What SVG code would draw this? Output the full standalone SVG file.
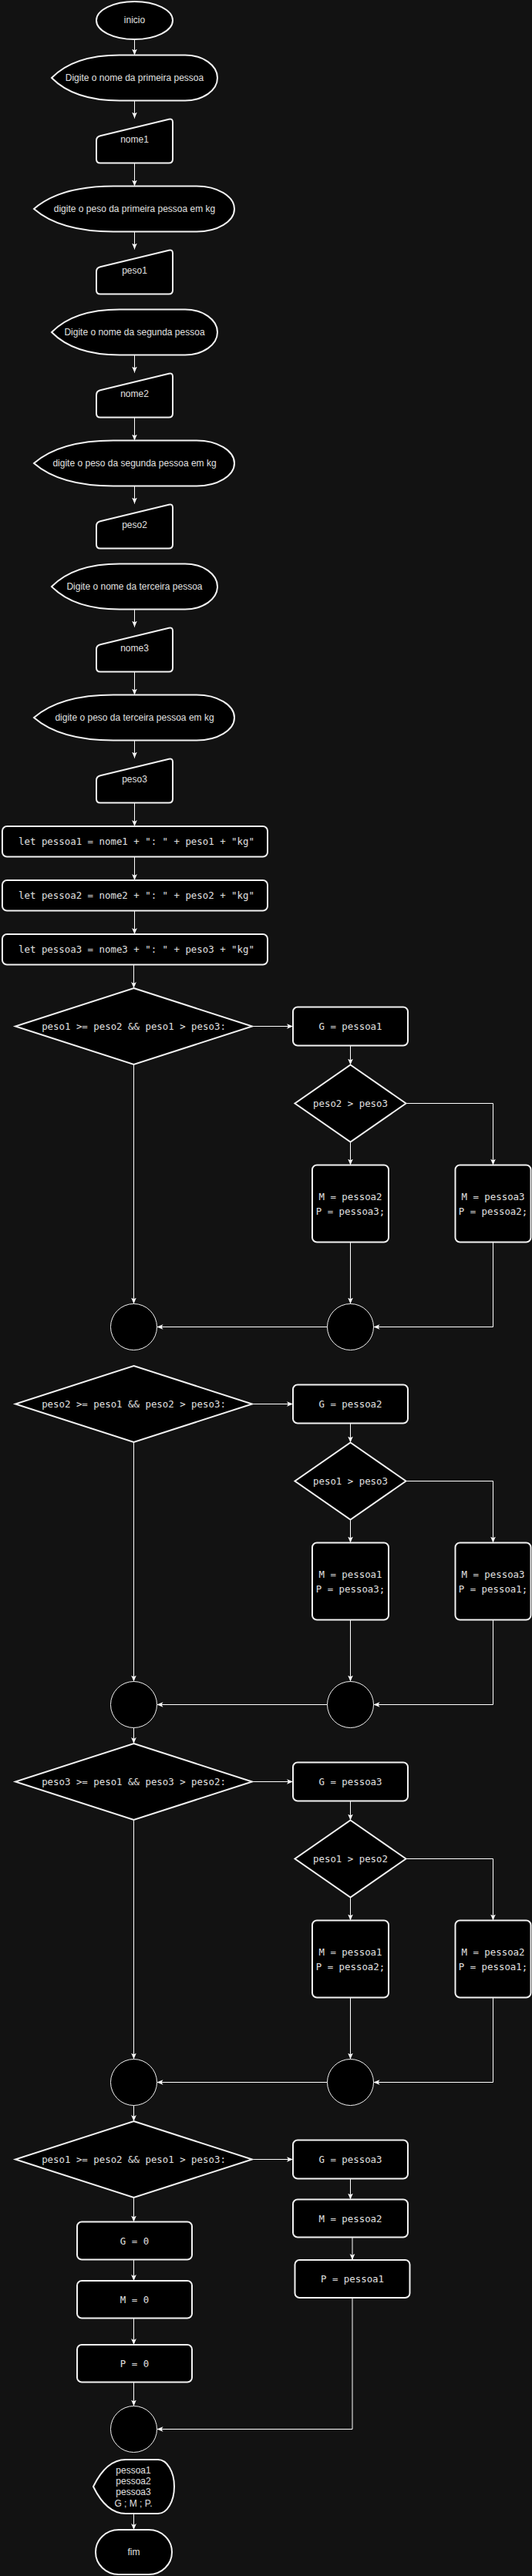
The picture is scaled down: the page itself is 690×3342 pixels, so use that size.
<svg xmlns="http://www.w3.org/2000/svg" width="690" height="3342" viewBox="0 0 690 3342">
<style>
.s{fill:#000;stroke:#f2f2f2;stroke-width:2}
.c{fill:#000;stroke:#f2f2f2;stroke-width:1}
.t{font-family:"Liberation Sans",Arial,sans-serif;font-size:12px;fill:#e0e0e0;text-anchor:middle;dominant-baseline:central}
.m{font-family:"DejaVu Sans Mono","Liberation Mono",monospace;font-size:12.4px;fill:#e0e0e0;text-anchor:middle;dominant-baseline:central}
.e{fill:none;stroke:#fff;stroke-width:1;marker-end:url(#a)}
</style>
<defs>
<marker id="a" markerUnits="userSpaceOnUse" viewBox="0 0 10 10" refX="10" refY="5" markerWidth="8" markerHeight="8" orient="auto">
<path d="M0,0.8 L10,5 L0,9.2 L2.5,5 Z" fill="#fff"/>
</marker>
</defs>
<rect width="690" height="3342" fill="#121212"/>

<g id="connectors">
<path class="e" d="M174.5 51V71.5"/>
<path class="e" d="M174.5 130.5V153.5"/>
<path class="e" d="M174.5 211.5V241.5"/>
<path class="e" d="M174.5 300.5V323.5"/>
<path class="e" d="M174.5 460.5V483.5"/>
<path class="e" d="M174.5 541.5V571.5"/>
<path class="e" d="M174.5 630.5V653.5"/>
<path class="e" d="M174.5 790.5V813.5"/>
<path class="e" d="M174.5 871.5V901.5"/>
<path class="e" d="M174.5 960.5V983.5"/>
<path class="e" d="M174.5 1041.5V1072"/>
<path class="e" d="M174.5 1111.5V1142"/>
<path class="e" d="M174.5 1181.5V1212"/>
<path class="e" d="M173.5 1251.5V1282"/>

<path class="e" d="M327 1331.5H380"/>
<path class="e" d="M454.5 1356.5V1381.5"/>
<path class="e" d="M454.5 1481.5V1511.5"/>
<path class="e" d="M526.5 1431.5H639.5V1511.5"/>
<path class="e" d="M454.5 1611.5V1691.5"/>
<path class="e" d="M639.5 1611.5V1721.5H484.5"/>
<path class="e" d="M424.5 1721.5H203.5"/>
<path class="e" d="M173.5 1381V1691.5"/>

<path class="e" d="M327 1821.5H380"/>
<path class="e" d="M454.5 1846.5V1871.5"/>
<path class="e" d="M454.5 1971.5V2001.5"/>
<path class="e" d="M526.5 1921.5H639.5V2001.5"/>
<path class="e" d="M454.5 2101.5V2181.5"/>
<path class="e" d="M639.5 2101.5V2211.5H484.5"/>
<path class="e" d="M424.5 2211.5H203.5"/>
<path class="e" d="M173.5 1871V2181.5"/>
<path class="e" d="M173.5 2241.5V2262"/>

<path class="e" d="M327 2311.5H380"/>
<path class="e" d="M454.5 2336.5V2361.5"/>
<path class="e" d="M454.5 2461.5V2491.5"/>
<path class="e" d="M526.5 2411.5H639.5V2491.5"/>
<path class="e" d="M454.5 2591.5V2671.5"/>
<path class="e" d="M639.5 2591.5V2701.5H484.5"/>
<path class="e" d="M424.5 2701.5H203.5"/>
<path class="e" d="M173.5 2361V2671.5"/>
<path class="e" d="M173.5 2731.5V2752"/>

<path class="e" d="M327 2801.5H380"/>
<path class="e" d="M454.5 2826.5V2853.5"/>
<path class="e" d="M457 2902.5V2932"/>
<path class="e" d="M457 2981V3151.5H203.5"/>
<path class="e" d="M173.5 2851V2882.5"/>
<path class="e" d="M173.5 2931.5V2959"/>
<path class="e" d="M173.5 3007.5V3042"/>
<path class="e" d="M173.5 3090.5V3121.5"/>
<path class="e" d="M173.5 3261V3282"/>
</g>

<g id="inicio"><ellipse class="s" cx="174.5" cy="26.5" rx="49.5" ry="24.5"/><text class="t" x="174.5" y="26">inicio</text></g>

<g id="msg_nome1"><path class="s" d="M67,101 Q96,71.5 155,71.5 L240,71.5 A42 29.5 0 0 1 282,101 A42 29.5 0 0 1 240,130.5 L155,130.5 Q96,130.5 67,101 Z"/><text class="t" x="174.5" y="101">Digite o nome da primeira pessoa</text></g>
<g id="in_nome1"><path class="s" d="M125,182.5 Q125,177.5 130,176.3 L219,154.7 Q224,153.5 224,158.5 L224,206.5 Q224,211.5 219,211.5 L130,211.5 Q125,211.5 125,206.5 Z"/><text class="t" x="174.5" y="181">nome1</text></g>
<g id="msg_peso1"><path class="s" d="M44,271 Q78,241.5 147,241.5 L255,241.5 A49 29.5 0 0 1 304,271 A49 29.5 0 0 1 255,300.5 L147,300.5 Q78,300.5 44,271 Z"/><text class="t" x="174.5" y="271">digite o peso da primeira pessoa em kg</text></g>
<g id="in_peso1"><path class="s" d="M125,352.5 Q125,347.5 130,346.3 L219,324.7 Q224,323.5 224,328.5 L224,376.5 Q224,381.5 219,381.5 L130,381.5 Q125,381.5 125,376.5 Z"/><text class="t" x="174.5" y="351">peso1</text></g>

<g id="msg_nome2"><path class="s" d="M67,431 Q96,401.5 155,401.5 L240,401.5 A42 29.5 0 0 1 282,431 A42 29.5 0 0 1 240,460.5 L155,460.5 Q96,460.5 67,431 Z"/><text class="t" x="174.5" y="431">Digite o nome da segunda pessoa</text></g>
<g id="in_nome2"><path class="s" d="M125,512.5 Q125,507.5 130,506.3 L219,484.7 Q224,483.5 224,488.5 L224,536.5 Q224,541.5 219,541.5 L130,541.5 Q125,541.5 125,536.5 Z"/><text class="t" x="174.5" y="511">nome2</text></g>
<g id="msg_peso2"><path class="s" d="M44,601 Q78,571.5 147,571.5 L255,571.5 A49 29.5 0 0 1 304,601 A49 29.5 0 0 1 255,630.5 L147,630.5 Q78,630.5 44,601 Z"/><text class="t" x="174.5" y="601">digite o peso da segunda pessoa em kg</text></g>
<g id="in_peso2"><path class="s" d="M125,682.5 Q125,677.5 130,676.3 L219,654.7 Q224,653.5 224,658.5 L224,706.5 Q224,711.5 219,711.5 L130,711.5 Q125,711.5 125,706.5 Z"/><text class="t" x="174.5" y="681">peso2</text></g>

<g id="msg_nome3"><path class="s" d="M67,761 Q96,731.5 155,731.5 L240,731.5 A42 29.5 0 0 1 282,761 A42 29.5 0 0 1 240,790.5 L155,790.5 Q96,790.5 67,761 Z"/><text class="t" x="174.5" y="761">Digite o nome da terceira pessoa</text></g>
<g id="in_nome3"><path class="s" d="M125,842.5 Q125,837.5 130,836.3 L219,814.7 Q224,813.5 224,818.5 L224,866.5 Q224,871.5 219,871.5 L130,871.5 Q125,871.5 125,866.5 Z"/><text class="t" x="174.5" y="841">nome3</text></g>
<g id="msg_peso3"><path class="s" d="M44,931 Q78,901.5 147,901.5 L255,901.5 A49 29.5 0 0 1 304,931 A49 29.5 0 0 1 255,960.5 L147,960.5 Q78,960.5 44,931 Z"/><text class="t" x="174.5" y="931">digite o peso da terceira pessoa em kg</text></g>
<g id="in_peso3"><path class="s" d="M125,1012.5 Q125,1007.5 130,1006.3 L219,984.7 Q224,983.5 224,988.5 L224,1036.5 Q224,1041.5 219,1041.5 L130,1041.5 Q125,1041.5 125,1036.5 Z"/><text class="t" x="174.5" y="1011">peso3</text></g>

<g id="let1"><rect class="s" x="3" y="1072" width="344" height="39.5" rx="6"/><text class="m" x="177" y="1091.7">let pessoa1 = nome1 + ": " + peso1 + "kg"</text></g>
<g id="let2"><rect class="s" x="3" y="1142" width="344" height="39.5" rx="6"/><text class="m" x="177" y="1161.7">let pessoa2 = nome2 + ": " + peso2 + "kg"</text></g>
<g id="let3"><rect class="s" x="3" y="1212" width="344" height="39.5" rx="6"/><text class="m" x="177" y="1231.7">let pessoa3 = nome3 + ": " + peso3 + "kg"</text></g>

<g id="cond1"><polygon class="s" points="173.5,1282 327,1331.5 173.5,1381 20,1331.5"/><text class="m" x="173.5" y="1331.5">peso1 &gt;= peso2 &amp;&amp; peso1 &gt; peso3:</text></g>
<g id="g1"><rect class="s" x="380" y="1306.5" width="149" height="50" rx="6"/><text class="m" x="454.5" y="1331.5">G = pessoa1</text></g>
<g id="cond1b"><polygon class="s" points="454.5,1381.5 526.5,1431.5 454.5,1481.5 382.5,1431.5"/><text class="m" x="454.5" y="1431.5">peso2 &gt; peso3</text></g>
<g id="mp1a"><rect class="s" x="405" y="1511.5" width="99" height="100" rx="6"/><text class="m" x="454.5" y="1552">M = pessoa2</text><text class="m" x="454.5" y="1571">P = pessoa3;</text></g>
<g id="mp1b"><rect class="s" x="590.5" y="1511.5" width="98" height="100" rx="6"/><text class="m" x="639.5" y="1552">M = pessoa3</text><text class="m" x="639.5" y="1571">P = pessoa2;</text></g>
<g id="j1a"><circle class="c" cx="173.5" cy="1721.5" r="30"/></g>
<g id="j1b"><circle class="c" cx="454.5" cy="1721.5" r="30"/></g>

<g id="cond2"><polygon class="s" points="173.5,1772 327,1821.5 173.5,1871 20,1821.5"/><text class="m" x="173.5" y="1821.5">peso2 &gt;= peso1 &amp;&amp; peso2 &gt; peso3:</text></g>
<g id="g2"><rect class="s" x="380" y="1796.5" width="149" height="50" rx="6"/><text class="m" x="454.5" y="1821.5">G = pessoa2</text></g>
<g id="cond2b"><polygon class="s" points="454.5,1871.5 526.5,1921.5 454.5,1971.5 382.5,1921.5"/><text class="m" x="454.5" y="1921.5">peso1 &gt; peso3</text></g>
<g id="mp2a"><rect class="s" x="405" y="2001.5" width="99" height="100" rx="6"/><text class="m" x="454.5" y="2042">M = pessoa1</text><text class="m" x="454.5" y="2061">P = pessoa3;</text></g>
<g id="mp2b"><rect class="s" x="590.5" y="2001.5" width="98" height="100" rx="6"/><text class="m" x="639.5" y="2042">M = pessoa3</text><text class="m" x="639.5" y="2061">P = pessoa1;</text></g>
<g id="j2a"><circle class="c" cx="173.5" cy="2211.5" r="30"/></g>
<g id="j2b"><circle class="c" cx="454.5" cy="2211.5" r="30"/></g>

<g id="cond3"><polygon class="s" points="173.5,2262 327,2311.5 173.5,2361 20,2311.5"/><text class="m" x="173.5" y="2311.5">peso3 &gt;= peso1 &amp;&amp; peso3 &gt; peso2:</text></g>
<g id="g3"><rect class="s" x="380" y="2286.5" width="149" height="50" rx="6"/><text class="m" x="454.5" y="2311.5">G = pessoa3</text></g>
<g id="cond3b"><polygon class="s" points="454.5,2361.5 526.5,2411.5 454.5,2461.5 382.5,2411.5"/><text class="m" x="454.5" y="2411.5">peso1 &gt; peso2</text></g>
<g id="mp3a"><rect class="s" x="405" y="2491.5" width="99" height="100" rx="6"/><text class="m" x="454.5" y="2532">M = pessoa1</text><text class="m" x="454.5" y="2551">P = pessoa2;</text></g>
<g id="mp3b"><rect class="s" x="590.5" y="2491.5" width="98" height="100" rx="6"/><text class="m" x="639.5" y="2532">M = pessoa2</text><text class="m" x="639.5" y="2551">P = pessoa1;</text></g>
<g id="j3a"><circle class="c" cx="173.5" cy="2701.5" r="30"/></g>
<g id="j3b"><circle class="c" cx="454.5" cy="2701.5" r="30"/></g>

<g id="cond4"><polygon class="s" points="173.5,2752 327,2801.5 173.5,2851 20,2801.5"/><text class="m" x="173.5" y="2801.5">peso1 &gt;= peso2 &amp;&amp; peso1 &gt; peso3:</text></g>
<g id="g4"><rect class="s" x="380" y="2776.5" width="149" height="50" rx="6"/><text class="m" x="454.5" y="2801.5">G = pessoa3</text></g>
<g id="m4"><rect class="s" x="380" y="2853.5" width="149" height="49" rx="6"/><text class="m" x="454.5" y="2878">M = pessoa2</text></g>
<g id="p4"><rect class="s" x="382.5" y="2932" width="149" height="49" rx="6"/><text class="m" x="457" y="2956.5">P = pessoa1</text></g>
<g id="g0"><rect class="s" x="100" y="2882.5" width="149" height="49" rx="6"/><text class="m" x="174.5" y="2907">G = 0</text></g>
<g id="m0"><rect class="s" x="100" y="2959" width="149" height="48.5" rx="6"/><text class="m" x="174.5" y="2983.3">M = 0</text></g>
<g id="p0"><rect class="s" x="100" y="3042" width="149" height="48.5" rx="6"/><text class="m" x="174.5" y="3066.3">P = 0</text></g>
<g id="j4"><circle class="c" cx="173.5" cy="3151.5" r="30"/></g>

<g id="saida"><path class="s" d="M121,3226 Q138,3191 163,3191 L205,3191 A21 35 0 0 1 226,3226 A21 35 0 0 1 205,3261 L163,3261 Q138,3261 121,3226 Z"/><text class="t" x="173" y="3204.7">pessoa1</text><text class="t" x="173" y="3219">pessoa2</text><text class="t" x="173" y="3233.4">pessoa3</text><text class="t" x="173" y="3247.7">G ; M ; P.</text></g>
<g id="fim"><rect class="s" x="124" y="3282" width="99" height="58" rx="30" ry="29"/><text class="t" x="173.5" y="3310.5">fim</text></g>
</svg>
